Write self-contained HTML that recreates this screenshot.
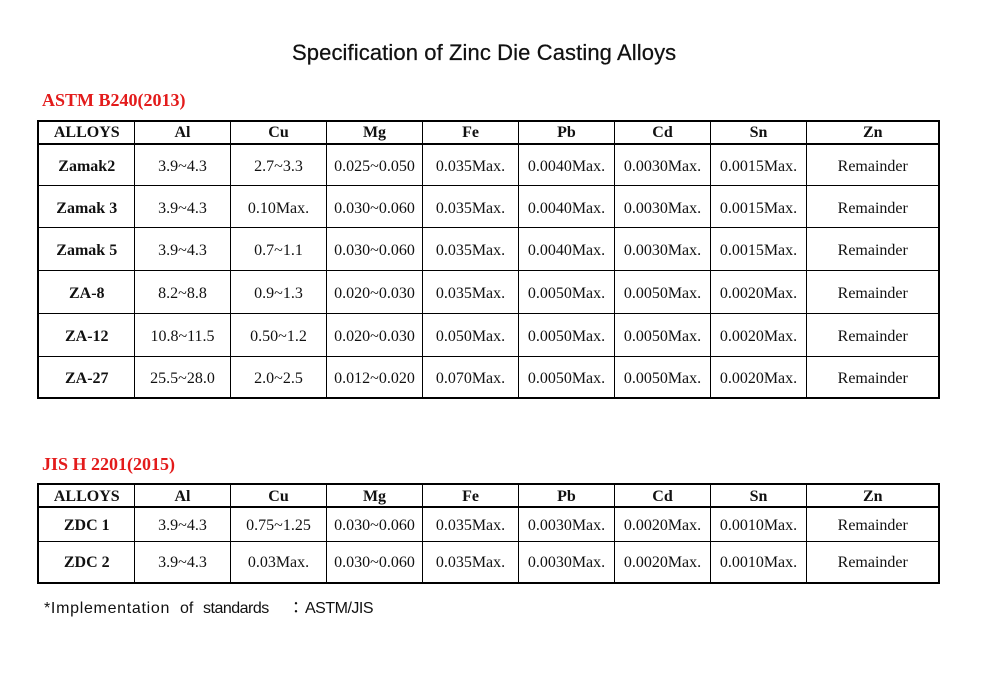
<!DOCTYPE html>
<html>
<head>
<meta charset="utf-8">
<style>
  html, body { margin:0; padding:0; background:#fff; }
  body { width:992px; height:674px; position:relative; overflow:hidden; }
  .abs { position:absolute; white-space:nowrap; }
  .title { left:292px; top:42px; font-family:"Liberation Sans", sans-serif; font-size:22px; line-height:22px; color:#111; letter-spacing:0.1px; -webkit-text-stroke:0.25px #111; }
  .red { font-family:"Liberation Serif", serif; font-weight:bold; font-size:18px; line-height:18px; color:#e31b1b; }
  .box { position:absolute; border:2px solid #000; box-sizing:border-box; }
  .vl { position:absolute; width:1px; background:#000; }
  .hl { position:absolute; height:1px; background:#000; }
  .row { position:absolute; left:39px; display:flex; box-sizing:border-box; font-family:"Liberation Serif", serif; font-size:16px; color:#111; }
  .row div { display:flex; align-items:center; justify-content:center; white-space:nowrap; flex:none; }
  .row div:nth-child(1) { width:95.5px; }
  .row div:nth-child(2), .row div:nth-child(3), .row div:nth-child(4), .row div:nth-child(5),
  .row div:nth-child(6), .row div:nth-child(7), .row div:nth-child(8) { width:96px; }
  .row div:nth-child(9) { width:132.5px; }
  .hdr { font-weight:bold; }
  .b1 div:first-child { font-weight:bold; }
  .note { font-family:"Liberation Sans", "Noto Sans CJK TC", sans-serif; font-size:16px; line-height:16px; color:#111; top:601px; }
</style>
</head>
<body>
<div class="abs title">Specification of Zinc Die Casting Alloys</div>

<div class="abs red" style="left:42px; top:91px;">ASTM B240(2013)</div>

<!-- Table 1 -->
<div class="box" style="left:37px; top:120px; width:903px; height:279px;"></div>
<div class="vl" style="left:134px; top:120px; height:279px;"></div>
<div class="vl" style="left:230px; top:120px; height:279px;"></div>
<div class="vl" style="left:326px; top:120px; height:279px;"></div>
<div class="vl" style="left:422px; top:120px; height:279px;"></div>
<div class="vl" style="left:518px; top:120px; height:279px;"></div>
<div class="vl" style="left:614px; top:120px; height:279px;"></div>
<div class="vl" style="left:710px; top:120px; height:279px;"></div>
<div class="vl" style="left:806px; top:120px; height:279px;"></div>
<div class="hl" style="left:37px; top:143px; width:903px; height:2px;"></div>
<div class="hl" style="left:37px; top:185px; width:903px;"></div>
<div class="hl" style="left:37px; top:227px; width:903px;"></div>
<div class="hl" style="left:37px; top:270px; width:903px;"></div>
<div class="hl" style="left:37px; top:313px; width:903px;"></div>
<div class="hl" style="left:37px; top:356px; width:903px;"></div>

<div class="row hdr" style="top:121px; height:23px; padding-top:1px;"><div>ALLOYS</div><div>Al</div><div>Cu</div><div>Mg</div><div>Fe</div><div>Pb</div><div>Cd</div><div>Sn</div><div>Zn</div></div>
<div class="row b1" style="top:144px; height:41.5px; padding-top:4px;"><div>Zamak2</div><div>3.9~4.3</div><div>2.7~3.3</div><div>0.025~0.050</div><div>0.035Max.</div><div>0.0040Max.</div><div>0.0030Max.</div><div>0.0015Max.</div><div>Remainder</div></div>
<div class="row b1" style="top:185.5px; height:42px; padding-top:4px;"><div>Zamak 3</div><div>3.9~4.3</div><div>0.10Max.</div><div>0.030~0.060</div><div>0.035Max.</div><div>0.0040Max.</div><div>0.0030Max.</div><div>0.0015Max.</div><div>Remainder</div></div>
<div class="row b1" style="top:227.5px; height:43px; padding-top:4px;"><div>Zamak 5</div><div>3.9~4.3</div><div>0.7~1.1</div><div>0.030~0.060</div><div>0.035Max.</div><div>0.0040Max.</div><div>0.0030Max.</div><div>0.0015Max.</div><div>Remainder</div></div>
<div class="row b1" style="top:270.5px; height:43px; padding-top:4px;"><div>ZA-8</div><div>8.2~8.8</div><div>0.9~1.3</div><div>0.020~0.030</div><div>0.035Max.</div><div>0.0050Max.</div><div>0.0050Max.</div><div>0.0020Max.</div><div>Remainder</div></div>
<div class="row b1" style="top:313.5px; height:43px; padding-top:4px;"><div>ZA-12</div><div>10.8~11.5</div><div>0.50~1.2</div><div>0.020~0.030</div><div>0.050Max.</div><div>0.0050Max.</div><div>0.0050Max.</div><div>0.0020Max.</div><div>Remainder</div></div>
<div class="row b1" style="top:356.5px; height:41.5px; padding-top:4px;"><div>ZA-27</div><div>25.5~28.0</div><div>2.0~2.5</div><div>0.012~0.020</div><div>0.070Max.</div><div>0.0050Max.</div><div>0.0050Max.</div><div>0.0020Max.</div><div>Remainder</div></div>

<div class="abs red" style="left:42px; top:455px;">JIS H 2201(2015)</div>

<!-- Table 2 -->
<div class="box" style="left:37px; top:483px; width:903px; height:101px;"></div>
<div class="vl" style="left:134px; top:483px; height:101px;"></div>
<div class="vl" style="left:230px; top:483px; height:101px;"></div>
<div class="vl" style="left:326px; top:483px; height:101px;"></div>
<div class="vl" style="left:422px; top:483px; height:101px;"></div>
<div class="vl" style="left:518px; top:483px; height:101px;"></div>
<div class="vl" style="left:614px; top:483px; height:101px;"></div>
<div class="vl" style="left:710px; top:483px; height:101px;"></div>
<div class="vl" style="left:806px; top:483px; height:101px;"></div>
<div class="hl" style="left:37px; top:506px; width:903px; height:2px;"></div>
<div class="hl" style="left:37px; top:541px; width:903px;"></div>

<div class="row hdr" style="top:484px; height:23px; padding-top:3px;"><div>ALLOYS</div><div>Al</div><div>Cu</div><div>Mg</div><div>Fe</div><div>Pb</div><div>Cd</div><div>Sn</div><div>Zn</div></div>
<div class="row b1" style="top:507px; height:34.5px; padding-top:3px;"><div>ZDC 1</div><div>3.9~4.3</div><div>0.75~1.25</div><div>0.030~0.060</div><div>0.035Max.</div><div>0.0030Max.</div><div>0.0020Max.</div><div>0.0010Max.</div><div>Remainder</div></div>
<div class="row b1" style="top:541.5px; height:41.5px; padding-top:2px;"><div>ZDC 2</div><div>3.9~4.3</div><div>0.03Max.</div><div>0.030~0.060</div><div>0.035Max.</div><div>0.0030Max.</div><div>0.0020Max.</div><div>0.0010Max.</div><div>Remainder</div></div>

<!-- Footnote -->
<div class="abs note" style="left:44px; letter-spacing:0.7px;">*Implementation</div>
<div class="abs note" style="left:180px;">of</div>
<div class="abs note" style="left:203px; letter-spacing:-0.5px;">standards</div>
<div class="abs note" style="left:288px;">：</div>
<div class="abs note" style="left:305px; letter-spacing:-0.5px;">ASTM/JIS</div>
</body>
</html>
